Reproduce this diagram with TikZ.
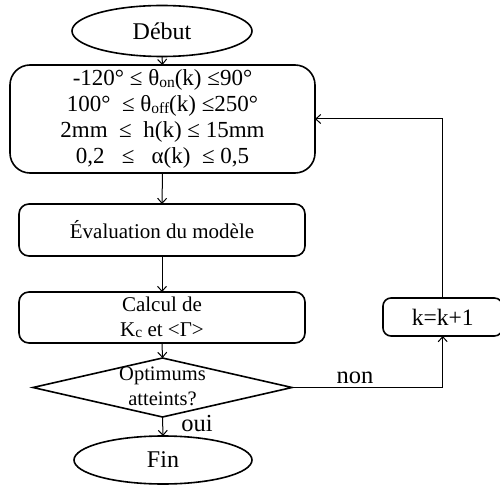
\documentclass[tikz,border=0pt]{standalone}
\usepackage{fontspec}
\setmainfont{Liberation Serif}
\usetikzlibrary{shapes.geometric,arrows.meta}
\newcommand{\sbs}[1]{\raisebox{-1.5pt}{\fontsize{15.5}{15.5}\selectfont #1}}
\begin{document}
\begin{tikzpicture}[x=1pt,y=-1pt,
  every node/.style={inner sep=0pt,outer sep=0pt},
  line width=1.4pt,
  arr/.style={-{Straight Barb[length=5pt,width=9pt,line width=1pt]},line width=1pt},
  ellnode/.style={ellipse,draw,line width=1.6pt,font=\fontsize{24}{26}\selectfont},
  boxnode/.style={rectangle,draw,line width=1.6pt,rounded corners=10pt,align=center,font=\fontsize{21}{25}\selectfont},
  lbl/.style={font=\fontsize{24.5}{26}\selectfont}]
\useasboundingbox (0,0) rectangle (500,486);
\node[ellnode,minimum width=180,minimum height=51] (debut) at (162,31) {Début};
\node[boxnode,rounded corners=20pt,minimum width=305,minimum height=108,font=\fontsize{23}{26}\selectfont] (init) at (162.5,119)
  {-120°\ ≤ θ\sbs{on}(k) ≤90°\\100°\ \ ≤ θ\sbs{off}(k) ≤250°\\2mm\ \ ≤\ \ h(k) ≤ 15mm\\0,2\ \ \ ≤\ \ \ α(k)\ \ ≤ 0,5};
\node[boxnode,minimum width=286,minimum height=52] (eval) at (162,230) {Évaluation du modèle};
\node[boxnode,minimum width=286,minimum height=51] (calc) at (162,317.5) {Calcul de\\K\sbs{c} et <Γ>};
\node[diamond,draw,line width=1.6pt,minimum width=259,minimum height=59] (test) at (162.5,387.5) {};
\node[align=center,font=\fontsize{20.5}{25}\selectfont] (testtxt) at (162.5,386) {Optimums\\atteints?};
\node[ellnode,minimum width=178,minimum height=48] (fin) at (163,460) {Fin};
\node[boxnode,rounded corners=8pt,minimum width=119.4,minimum height=38,font=\fontsize{23.5}{26}\selectfont] (kbox) at (442.7,317) {k=k+1};
\draw[arr] (debut.south) -- (init.north);
\draw[arr] (init.south) -- (eval.north);
\draw[arr] (eval.south) -- (calc.north);
\draw[arr] (calc.south) -- (test.north);
\draw[arr] (test.south) -- (fin.north);
\node[lbl] (oui) at (197,424) {oui};
\draw[arr] (test.east) -| (kbox.south);
\node[lbl] (non) at (355,378) {non};
\draw[arr] (kbox.north) |- (init.east);
\end{tikzpicture}
\end{document}
